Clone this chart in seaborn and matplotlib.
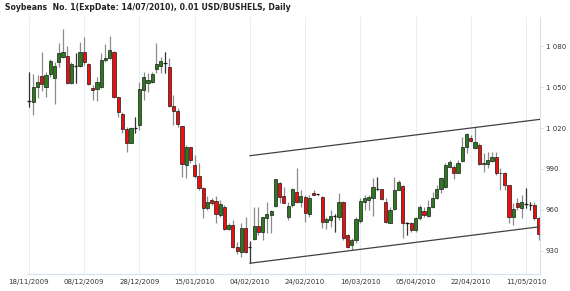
import matplotlib
matplotlib.use("Agg")
import matplotlib.pyplot as plt
import seaborn as sns
import numpy as np
import pandas as pd

# ---- data ----
opens = [1040.2, 1039.3, 1050.3, 1058.4, 1050.3, 1059.4, 1056.5, 1068.7, 1071.9, 1073.1,
         1052.8, 1065.2, 1065.7, 1075.5, 1066.7, 1049.4, 1048.9, 1050.3, 1069.7, 1071.1,
         1075.8, 1042.5, 1030.0, 1019.0, 1009.3, 1019.8, 1022.0, 1047.9, 1052.8, 1054.0,
         1063.3, 1065.5, 1067.7, 1064.5, 1036.1, 1032.7, 1021.2, 992.9, 1006.1, 993.1,
         984.8, 976.2, 961.5, 966.9, 966.2, 956.2, 962.3, 946.1, 948.8, 932.9,
         929.3, 946.4, 932.9, 938.3, 948.1, 943.9, 953.7, 956.2, 963.0, 979.4,
         970.1, 955.0, 963.5, 973.3, 966.0, 969.6, 956.9, 972.6, 971.6, 969.6,
         951.3, 952.3, 955.4, 954.5, 966.0, 941.5, 934.2, 937.8, 951.8, 966.0,
         967.2, 968.4, 975.5, 975.2, 965.7, 950.5, 960.3, 974.5, 977.5, 950.6,
         950.6, 945.2, 953.7, 958.9, 955.5, 961.8, 968.4, 975.2, 976.5, 991.6,
         991.2, 987.2, 996.0, 1006.3, 1012.4, 1005.1, 1007.5, 993.6, 993.6, 996.0,
         999.0, 987.2, 986.8, 978.2, 954.5, 965.2, 961.1, 964.1, 963.8, 963.5,
         954.2]
highs = [1060.9, 1059.4, 1058.9, 1075.5, 1061.3, 1070.4, 1068.7, 1082.1, 1092.4, 1080.4,
         1068.7, 1074.8, 1083.0, 1087.0, 1067.5, 1051.6, 1057.7, 1074.8, 1081.4, 1087.5,
         1076.5, 1043.0, 1032.0, 1021.0, 1021.0, 1027.8, 1054.0, 1061.3, 1060.1, 1061.3,
         1082.1, 1072.3, 1076.0, 1071.1, 1044.2, 1034.4, 1021.5, 1007.5, 1006.3, 1000.2,
         994.6, 977.0, 970.3, 968.4, 970.1, 967.2, 963.5, 950.0, 952.5, 936.6,
         950.0, 954.9, 937.0, 962.3, 962.3, 954.5, 966.0, 960.0, 982.5, 980.6,
         977.0, 966.0, 975.8, 990.4, 974.5, 970.8, 970.8, 974.5, 971.8, 970.0,
         955.0, 959.8, 957.0, 972.1, 966.3, 942.0, 939.1, 955.0, 968.4, 970.8,
         970.8, 983.1, 984.3, 975.5, 968.4, 962.3, 984.3, 981.9, 978.2, 951.3,
         951.3, 955.0, 963.5, 962.3, 967.2, 973.3, 978.2, 984.3, 994.1, 996.5,
         992.9, 996.5, 1013.7, 1016.1, 1014.9, 1021.0, 1008.8, 1001.4, 1002.7, 1002.7,
         1002.7, 990.4, 988.0, 978.2, 964.7, 968.4, 970.8, 975.7, 966.0, 966.0,
         955.0]
lows = [1035.2, 1029.6, 1041.8, 1047.0, 1043.0, 1057.7, 1037.6, 1065.0, 1071.1, 1052.0,
        1052.3, 1052.8, 1065.0, 1066.3, 1051.6, 1040.6, 1040.1, 1049.1, 1068.7, 1070.4,
        1041.8, 1028.3, 1016.1, 1002.6, 1008.8, 1016.1, 1018.5, 1040.6, 1046.7, 1052.8,
        1060.1, 1060.1, 1060.1, 1035.2, 1022.2, 1021.0, 984.3, 983.1, 994.0, 983.1,
        974.5, 953.7, 959.8, 963.5, 950.5, 955.0, 945.0, 945.0, 931.7, 927.6,
        925.6, 928.0, 920.8, 937.8, 941.5, 937.8, 942.7, 942.7, 962.3, 964.7,
        964.7, 952.5, 962.3, 964.7, 962.3, 951.3, 955.0, 970.8, 971.0, 946.4,
        945.6, 947.6, 944.0, 952.5, 937.8, 931.7, 930.5, 936.0, 950.1, 959.8,
        960.0, 955.5, 974.5, 967.2, 950.0, 950.0, 959.8, 974.5, 939.1, 941.5,
        944.0, 944.0, 952.5, 955.0, 955.0, 961.0, 967.7, 972.6, 975.7, 990.4,
        982.3, 986.8, 995.3, 1001.4, 1010.0, 1004.4, 992.9, 988.0, 990.4, 995.3,
        985.5, 974.5, 974.5, 950.1, 948.8, 959.8, 953.7, 961.1, 959.8, 952.5,
        937.8]
closes = [1040.2, 1050.3, 1053.8, 1052.5, 1058.9, 1069.4, 1065.7, 1074.8, 1075.8, 1052.8,
          1067.0, 1065.2, 1076.0, 1068.2, 1052.3, 1047.9, 1053.8, 1069.9, 1071.6, 1077.2,
          1042.5, 1031.5, 1019.0, 1008.8, 1019.8, 1019.8, 1048.6, 1057.2, 1055.0, 1059.6,
          1067.2, 1068.9, 1067.7, 1036.1, 1032.7, 1023.2, 993.3, 1005.8, 996.5, 985.0,
          975.7, 961.5, 965.9, 964.7, 956.9, 964.2, 945.9, 948.8, 932.9, 929.8,
          946.4, 928.8, 932.9, 948.1, 943.9, 954.5, 956.9, 959.1, 982.3, 969.6,
          965.2, 962.9, 975.0, 966.0, 970.1, 957.9, 968.9, 970.8, 971.6, 951.3,
          953.0, 955.7, 955.4, 966.0, 939.1, 933.0, 937.8, 953.0, 966.7, 968.4,
          969.1, 976.5, 975.5, 967.7, 950.8, 959.8, 974.5, 980.6, 950.1, 950.6,
          945.2, 953.7, 961.8, 956.0, 962.3, 968.4, 975.2, 983.1, 992.9, 994.8,
          986.8, 994.1, 1006.3, 1015.4, 1010.5, 1009.5, 993.6, 994.1, 996.5, 999.0,
          986.8, 986.8, 978.2, 954.5, 960.3, 961.8, 966.0, 964.1, 963.8, 953.7,
          942.0]

date_labels = ["18/11/2009", "08/12/2009", "28/12/2009", "15/01/2010", "04/02/2010",
               "24/02/2010", "16/03/2010", "05/04/2010", "22/04/2010", "11/05/2010"]
date_positions = [0, 13, 26, 39, 52, 65, 78, 91, 104, 117]

price_ticks = [930, 960, 990, 1020, 1050, 1080]
price_labels = ["930", "960", "990", "1 020", "1 050", "1 080"]

channel_x = [52, 120.3]
channel_upper = [999.7, 1026.4]
channel_lower = [920.8, 947.6]

title = "Soybeans  No. 1(ExpDate: 14/07/2010), 0.01 USD/BUSHELS, Daily"

# ---- plot ----
sns.set_style("white")
plt.rcParams['font.family'] = ['DejaVu Sans']

df = pd.DataFrame({"o": opens, "h": highs, "l": lows, "c": closes})
df["i"] = np.arange(len(df))

fig = plt.figure(figsize=(5.7, 2.91), dpi=100)
ax = fig.add_axes([26.9 / 570, 1 - 274 / 291, (540 - 26.9) / 570, (274 - 17) / 291])

grid_c = "#e6eef7"
for p in date_positions:
    ax.axvline(p, color=grid_c, lw=0.8, zorder=0)

# wicks
ax.vlines(df["i"], df["l"], df["h"], color="#8c8c8c", lw=0.9, zorder=1)

up = df[df.c > df.o]
dn = df[df.c < df.o]
dj = df[df.c == df.o]
w = 0.75
ax.bar(up["i"], up["c"] - up["o"], bottom=up["o"], width=w, color="#2b7a1c",
       edgecolor="#1a1a1a", linewidth=0.5, zorder=2)
ax.bar(dn["i"], dn["o"] - dn["c"], bottom=dn["c"], width=w, color="#f20d0d",
       edgecolor="#1a1a1a", linewidth=0.5, zorder=2)
ax.hlines(dj["c"], dj["i"] - w / 2, dj["i"] + w / 2, color="#1a1a1a", lw=0.9, zorder=2)
ax.vlines(dj["i"], dj["l"], dj["h"], color="#333333", lw=0.8, zorder=1)

ch = pd.DataFrame({"x": channel_x + channel_x,
                   "y": channel_upper + channel_lower,
                   "g": ["u", "u", "l", "l"]})
sns.lineplot(data=ch, x="x", y="y", units="g", estimator=None, color="#404040",
             lw=0.9, ax=ax, legend=False, zorder=3)

ax.set_xlim(-0.5, 120.3)
ax.set_ylim(912.9, 1101.5)
ax.set_xlabel("")
ax.set_ylabel("")

ax.set_xticks(date_positions)
ax.set_xticklabels(date_labels, fontsize=5, color="#333333")
ax.yaxis.tick_right()
ax.set_yticks(price_ticks)
ax.set_yticklabels(price_labels, fontsize=5, color="#333333")
ax.tick_params(axis="x", length=0, pad=3.5)
ax.tick_params(axis="y", length=2, pad=2, color="#c9d6e3", width=0.6)

for s in ["left", "top"]:
    ax.spines[s].set_visible(False)
for s in ["bottom", "right"]:
    ax.spines[s].set_color("#d6e2ee")
    ax.spines[s].set_linewidth(0.8)

fig.text(5 / 570, 1 - 3 / 291, title, fontsize=5.6, fontweight="bold",
         color="#222222", va="top", ha="left")

fig.savefig("out.png", dpi=100)
